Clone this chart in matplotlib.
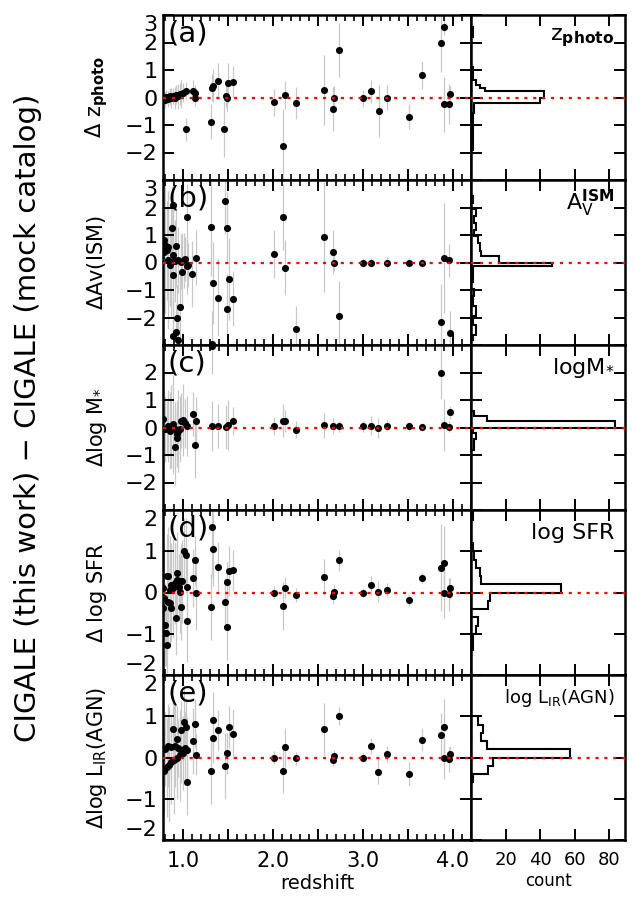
import matplotlib
matplotlib.use('Agg')
import matplotlib.pyplot as plt
from matplotlib.ticker import FixedLocator, MultipleLocator, NullFormatter

# ---------------- data ----------------
# panel (a) : delta z_photo
z_a = [0.781, 0.800, 0.818, 0.837, 0.855, 0.874, 0.892, 0.911, 0.929, 0.947, 0.966, 0.985, 1.004, 1.033, 1.04, 1.115, 1.13, 1.14,
       1.31, 1.32, 1.33, 1.39, 1.46, 1.48, 1.49, 1.50, 1.56, 2.01, 2.11, 2.14, 2.26, 2.57, 2.67, 2.68, 2.73, 3.00, 3.09, 3.18,
       3.27, 3.51, 3.66, 3.87, 3.90, 3.90, 3.96, 3.97]
d_a = [-0.02, -0.08, 0.01, -0.06, 0.04, -0.02, 0.06, 0.00, 0.10, 0.04, 0.14, 0.12, 0.18, 0.25, -1.15, 0.25, 0.16, 0.00,
       -0.88, 0.36, 0.43, 0.60, -1.15, 0.05, 0.00, 0.52, 0.58, -0.18, -1.75, 0.10, -0.20, 0.28, -0.41, -0.02, 1.73, -0.03, 0.22, -0.48,
       0.00, -0.70, 0.82, 2.00, 2.56, -0.24, -0.24, 0.12]
e_a = [0.25, 0.3, 0.25, 0.3, 0.3, 0.35, 0.3, 0.4, 0.35, 0.45, 0.4, 0.5, 0.35, 0.3, 0.42, 0.4, 0.3, 0.3,
       0.64, 0.5, 0.6, 0.64, 1.0, 0.4, 0.5, 0.73, 0.55, 0.5, 1.35, 0.5, 0.58, 1.27, 0.8, 0.45, 0.97, 0.3, 0.42, 0.94,
       0.45, 0.45, 0.5, 1.06, 0.3, 1.0, 0.73, 0.3]

# panel (b) : delta Av(ISM)
z_b = [0.789, 0.80, 0.819, 0.789, 0.837, 0.837, 0.856, 0.874, 0.885, 0.893, 0.919, 0.893, 0.889, 0.911, 0.93, 0.919, 0.893,
       0.948, 0.948, 0.974, 0.985, 0.993, 1.011, 1.022, 1.041, 1.041, 1.06, 1.107, 1.141,
       1.31, 1.32, 1.33, 1.39, 1.47, 1.49, 1.49, 1.51, 1.56, 2.01, 2.11, 2.14, 2.26, 2.57, 2.67, 2.68, 2.73,
       3.00, 3.09, 3.27, 3.51, 3.66, 3.87, 3.90, 3.96, 3.97]
d_b = [0.81, 0.63, 0.45, 0.39, 0.57, 0.09, -0.09, 0.03, 1.24, 2.09, 0.61, 0.27, -0.46, 0.05, -2.00, -2.52, -2.67,
       -2.80, 0.09, -1.63, 0.03, -0.34, 0.09, 0.12, 1.66, -0.13, -0.09, -0.43, 0.18,
       1.30, -2.97, -0.74, -1.28, 2.23, 1.27, -1.70, -0.60, -1.32, 0.32, 1.66, -0.19, -2.42, 0.93, 0.37, 0.00, -1.94,
       0.00, 0.00, 0.00, 0.00, 0.00, -2.18, 0.17, 0.08, -2.58]
e_b = [2.0, 2.5, 1.8, 2.2, 2.0, 2.5, 1.5, 2.0, 1.5, 1.2, 1.5, 1.8, 1.7, 1.5, 1.2, 1.0, 1.3,
       1.0, 1.2, 1.3, 1.0, 1.4, 1.0, 0.8, 1.2, 1.0, 0.8, 1.2, 1.0,
       1.8, 1.2, 1.5, 1.4, 1.2, 1.3, 1.3, 1.5, 1.0, 0.88, 1.2, 1.0, 0.85, 2.0, 0.8, 0.3, 1.27,
       0.15, 0.15, 0.2, 0.15, 0.15, 1.4, 2.0, 0.6, 0.8]

# panel (c) : delta log M*
z_c = [0.783, 0.80, 0.819, 0.837, 0.856, 0.874, 0.893, 0.911, 0.93, 0.937, 0.911, 0.948, 0.967, 0.985, 1.004, 1.022, 1.041,
       1.115, 1.141, 1.133,
       1.32, 1.32, 1.39, 1.48, 1.50, 1.56, 2.01, 2.11, 2.14, 2.26, 2.57, 2.67, 2.73, 3.00, 3.09, 3.17, 3.27, 3.51, 3.66,
       3.87, 3.90, 3.96, 3.97]
d_c = [0.30, -0.06, -0.02, 0.06, -0.12, 0.03, 0.12, -0.06, -0.24, -0.39, -0.70, -0.12, -0.06, 0.24, 0.27, 0.15, 0.06,
       0.49, 0.22, -0.64,
       2.95, 0.05, 0.04, 0.02, 0.10, 0.23, 0.06, 0.25, 0.22, -0.08, 0.08, 0.05, 0.04, 0.04, 0.07, -0.02, 0.06, 0.04, 0.03,
       2.00, 0.10, 0.03, 0.55]
e_c = [1.0, 1.2, 1.0, 1.3, 1.4, 1.5, 1.8, 1.0, 1.2, 1.0, 1.4, 1.5, 1.2, 1.0, 1.3, 0.9, 1.1,
       0.8, 0.9, 1.2,
       1.0, 0.9, 0.8, 0.8, 0.9, 0.5, 0.33, 0.6, 0.4, 0.3, 0.45, 0.3, 0.2, 0.2, 0.36, 0.36, 0.2, 0.15, 0.15,
       0.97, 0.94, 0.2, 0.25]

# panel (d) : delta log SFR
z_d = [0.783, 0.789, 0.783, 0.80, 0.811, 0.826, 0.819, 0.837, 0.837, 0.856, 0.856, 0.874, 0.874, 0.893, 0.911, 0.919, 0.93,
       0.937, 0.959, 0.967, 0.978, 0.985, 0.996, 1.011, 1.03, 1.041, 1.041, 1.115, 1.133, 1.141,
       1.32, 1.33, 1.31, 1.39, 1.47, 1.49, 1.49, 1.51, 1.56, 2.01, 2.11, 2.14, 2.26, 2.57, 2.67, 2.68, 2.73,
       3.00, 3.09, 3.17, 3.27, 3.51, 3.66, 3.87, 3.90, 3.90, 3.96, 3.97]
d_d = [0.12, -0.14, -0.38, -0.78, -0.98, -1.27, 0.41, 0.39, -0.22, 0.06, -0.26, 0.19, -0.38, 0.10, 0.23, -0.62, 0.31,
       0.47, 0.14, 0.02, 0.27, -0.35, 0.27, 1.01, 0.90, 0.14, -0.69, 0.36, 0.78, -0.02,
       1.60, 1.05, -0.36, 0.63, -0.24, 0.25, -0.84, 0.52, 0.54, 0.00, -0.33, 0.12, -0.06, 0.38, -0.09, 0.02, 0.78,
       0.00, 0.17, 0.02, 0.06, -0.19, 0.36, 0.60, 0.72, -0.02, -0.04, 0.10]
e_d = [1.0, 1.2, 1.5, 1.0, 0.8, 0.8, 1.0, 1.2, 1.0, 1.3, 1.0, 1.0, 0.8, 1.2, 1.0, 0.9, 0.9,
       1.0, 0.8, 1.0, 0.9, 0.8, 1.0, 0.8, 0.9, 0.8, 1.0, 0.7, 0.6, 0.9,
       1.2, 0.9, 0.8, 0.6, 0.6, 0.5, 0.8, 0.6, 0.5, 0.16, 0.58, 0.25, 0.18, 0.44, 0.18, 0.15, 0.26,
       0.1, 0.24, 0.26, 0.18, 0.14, 0.14, 1.05, 0.9, 0.6, 0.4, 0.26]

# panel (e) : delta log L_IR(AGN)
z_e = [0.789, 0.819, 0.848, 0.874, 0.904, 0.937, 0.967, 1.004, 1.041, 0.80, 0.837, 0.874, 0.911, 0.948, 0.985, 1.022,
       0.893, 0.941, 0.985, 1.011, 1.03, 1.041, 1.115, 1.133, 1.141,
       1.31, 1.33, 1.34, 1.39, 1.47, 1.49, 1.51, 1.56, 2.01, 2.11, 2.14, 2.26, 2.57, 2.67, 2.68, 2.73,
       3.00, 3.09, 3.17, 3.27, 3.51, 3.66, 3.87, 3.90, 3.90, 3.96, 3.97]
d_e = [-0.32, -0.24, -0.17, -0.12, -0.06, -0.01, 0.05, 0.11, 0.17, 0.21, 0.29, 0.25, 0.29, 0.23, 0.18, 0.23,
       0.68, 0.45, 0.66, 0.86, 0.74, -0.60, 0.39, 0.82, 0.07,
       -0.32, 0.47, 0.90, 0.66, -0.21, 0.10, 0.74, 0.57, 0.00, -0.32, 0.25, -0.02, 0.68, -0.06, 0.04, 1.00,
       0.00, 0.28, -0.34, 0.08, -0.40, 0.43, 0.54, 0.74, -0.02, -0.04, 0.09]
e_e = [1.0, 1.2, 1.4, 1.0, 1.3, 1.0, 1.1, 0.9, 0.8, 0.9, 1.0, 0.8, 1.0, 0.7, 0.8, 0.9,
       0.8, 0.8, 0.7, 0.9, 0.7, 0.8, 0.8, 0.6, 0.5,
       0.8, 0.6, 0.7, 0.5, 0.8, 0.5, 0.5, 0.6, 0.16, 0.53, 0.47, 0.16, 0.63, 0.15, 0.15, 0.22,
       0.1, 0.2, 0.3, 0.2, 0.3, 0.28, 0.55, 0.67, 0.5, 0.3, 0.2]

# histograms (bin edges in delta, counts)
h_edges_a = [-1.9, -1.17, -0.57, -0.2, 0.0, 0.22, 0.34, 0.46, 0.64, 1.12, 2.2, 2.57]
h_count_a = [1, 1, 2, 40, 42, 8, 5, 3, 1, 0, 1]
h_edges_b = [-2.83, -2.65, -2.29, -1.93, -1.57, -1.2, -0.96, -0.72, -0.36, -0.145, 0.0, 0.22, 0.42, 0.72, 0.96,
             1.2, 1.45, 1.69, 1.93, 2.17, 2.41]
h_count_b = [1, 3, 1, 3, 1, 2, 0, 1, 1, 47, 16, 6, 5, 4, 2, 3, 2, 3, 0, 1]
h_edges_c = [-0.8, -0.6, -0.4, -0.2, 0.0, 0.22, 0.42, 0.6]
h_count_c = [2, 2, 3, 1, 83, 9, 2]
h_edges_d = [-1.4, -1.0, -0.8, -0.6, -0.4, -0.2, 0.0, 0.2, 0.4, 0.6, 0.8, 1.0, 1.2, 1.75, 2.0]
h_count_d = [1, 3, 4, 0, 10, 11, 52, 6, 5, 3, 2, 1, 0, 1]
h_edges_e = [-0.8, -0.6, -0.4, -0.2, 0.0, 0.2, 0.4, 0.6, 0.8, 1.0]
h_count_e = [0, 1, 10, 13, 57, 9, 6, 7, 4]

panel_tags = ['(a)', '(b)', '(c)', '(d)', '(e)']
y_labels = [r'$\Delta\ \mathrm{z}_{\mathbf{photo}}$', r'$\Delta$Av(ISM)', r'$\Delta$log M$_{*}$',
            r'$\Delta$ log SFR', r'$\Delta$log L$_{\mathrm{IR}}$(AGN)']
hist_labels = [r'$\mathrm{z}_{\mathbf{photo}}$', r'A$_{\mathrm{V}}^{\mathbf{ISM}}$', r'logM$_{*}$',
               'log SFR', r'log L$_{\mathrm{IR}}$(AGN)']
y_limits = [(-3, 3), (-3, 3), (-3, 3), (-2, 2), (-2, 2)]
y_ticks = [[-3, -2, -1, 0, 1, 2, 3], [-3, -2, -1, 0, 1, 2, 3], [-3, -2, -1, 0, 1, 2, 3],
           [-2, -1, 0, 1, 2], [-2, -1, 0, 1, 2]]
y_ticklabels = [['', '\u22122', '\u22121', '0', '1', '2', '3'], ['', '\u22122', '\u22121', '0', '1', '2', '3'],
                ['', '\u22122', '\u22121', '0', '1', '2', ''],
                ['\u22122', '\u22121', '0', '1', '2'], ['\u22122', '\u22121', '0', '1', '2']]
x_major = [1.0, 1.5, 2.0, 2.5, 3.0, 3.5, 4.0]
x_ticklabels = ['1.0', '', '2.0', '', '3.0', '', '4.0']
count_ticks = [20, 40, 60, 80]

scatter_data = [(z_a, d_a, e_a), (z_b, d_b, e_b), (z_c, d_c, e_c), (z_d, d_d, e_d), (z_e, d_e, e_e)]
hist_data = [(h_edges_a, h_count_a), (h_edges_b, h_count_b), (h_edges_c, h_count_c),
             (h_edges_d, h_count_d), (h_edges_e, h_count_e)]

# ---------------- figure ----------------
W, H = 633, 900
fig = plt.figure(figsize=(W / 100, H / 100), dpi=100)
top0, ph = 15, 165
xl, xm, xr = 163, 471, 625
red_ls = (0, (1.4, 2.6))

for i in range(5):
    ybot = 1 - (top0 + ph * (i + 1)) / H
    axL = fig.add_axes([xl / W, ybot, (xm - xl) / W, ph / H])
    axR = fig.add_axes([xm / W, ybot, (xr - xm) / W, ph / H])
    z, d, e = scatter_data[i]
    lo = [dv - ev for dv, ev in zip(d, e)]
    hi = [dv + ev for dv, ev in zip(d, e)]
    axL.vlines(z, lo, hi, color='#c8c8c8', lw=0.9, zorder=1)
    axL.scatter(z, d, s=26, color='black', zorder=2, linewidths=0)
    axL.axhline(0, color='red', ls=red_ls, lw=1.6, zorder=5)
    axL.set_xlim(0.78, 4.2)
    ymin, ymax = y_limits[i]
    axL.set_ylim(ymin, ymax)
    axL.xaxis.set_major_locator(FixedLocator(x_major))
    axL.xaxis.set_minor_locator(MultipleLocator(0.1))
    axL.yaxis.set_major_locator(FixedLocator(y_ticks[i]))
    axL.set_yticklabels(y_ticklabels[i])
    for tv, lab in zip(y_ticks[i], axL.get_yticklabels()):
        if tv == ymax:
            lab.set_va('top')
        elif tv == ymin:
            lab.set_va('bottom')
    if i == 4:
        axL.set_xticklabels(x_ticklabels)
        axL.set_xlabel('redshift', fontsize=14, labelpad=2)
    else:
        axL.xaxis.set_major_formatter(NullFormatter())
    axL.tick_params(axis='both', which='major', direction='in', top=True, right=True,
                    length=8, width=1.4, labelsize=16, pad=4)
    axL.tick_params(axis='x', which='major', labelsize=15, pad=8)
    axL.tick_params(axis='x', which='minor', direction='in', top=True, bottom=True, length=4, width=1.2)
    axL.text(0.015, 0.97, panel_tags[i], transform=axL.transAxes, ha='left', va='top', fontsize=21)

    edges, counts = hist_data[i]
    axR.stairs(counts, edges, orientation='horizontal', baseline=0, color='black', lw=1.5, zorder=3)
    axR.axhline(0, color='red', ls=red_ls, lw=1.6, zorder=5)
    axR.set_xlim(0, 89)
    axR.set_ylim(ymin, ymax)
    axR.xaxis.set_major_locator(FixedLocator(count_ticks))
    axR.yaxis.set_major_locator(FixedLocator(y_ticks[i]))
    axR.yaxis.set_major_formatter(NullFormatter())
    if i == 4:
        axR.set_xticklabels([str(c) for c in count_ticks])
        axR.set_xlabel('count', fontsize=12, labelpad=2)
    else:
        axR.xaxis.set_major_formatter(NullFormatter())
    axR.tick_params(axis='both', which='major', direction='in', top=True, right=True, left=True,
                    length=8, width=1.4, labelsize=13, pad=8)
    axR.text(0.93, 0.86, hist_labels[i], transform=axR.transAxes, ha='right', va='center',
             fontsize=16 if i < 4 else 13)

    for ax in (axL, axR):
        for sp in ax.spines.values():
            sp.set_linewidth(1.8)

    ycen = 1 - (top0 + ph * i + ph / 2) / H
    fig.text(97 / W, ycen, y_labels[i], rotation=90, ha='center', va='center', fontsize=15)

fig.text(28 / W, 1 - 418 / H, 'CIGALE (this work) \u2212 CIGALE (mock catalog)', rotation=90,
         ha='center', va='center', fontsize=21)

fig.savefig('out.png', dpi=100)
